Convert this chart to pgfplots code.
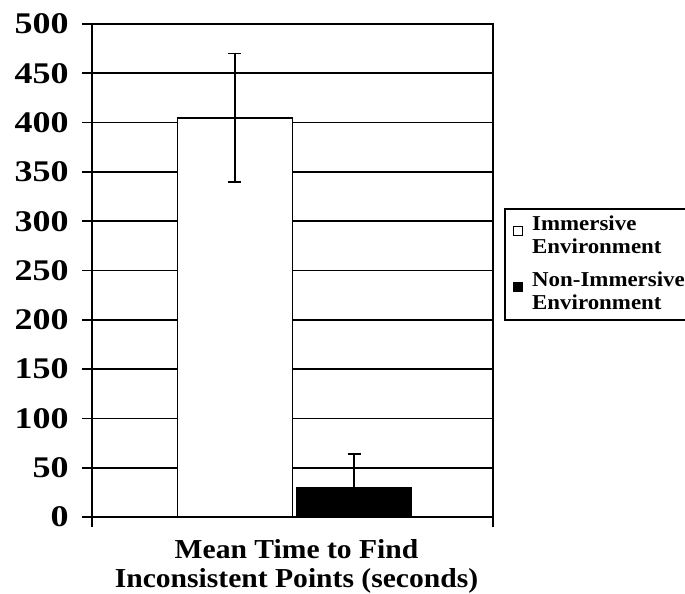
\documentclass[border=0pt]{standalone}
\usepackage{fontspec}
\setmainfont{Liberation Serif}[FakeStretch=1.08]
\newfontfamily\tickfont{Liberation Serif}[FakeStretch=1.2]
\usepackage{pgfplots}
\pgfplotsset{compat=1.18}
\begin{document}
\begin{tikzpicture}
\begin{axis}[
  scale only axis,
  width=200.5pt, height=246.5pt,
  xmin=-1, xmax=1,
  ymin=0, ymax=500,
  ytick={0,50,...,500},
  xtick={-1,1},
  xticklabels={},
  tick pos=left,
  tick align=outside,
  major tick length=5pt,
  tick style={black, line width=0.85pt},
  axis line style={black, line width=0.85pt},
  ymajorgrids,
  grid style={black, line width=0.85pt},
  /pgf/number format/assume math mode=true,
  yticklabel style={font=\tickfont\bfseries\fontsize{15}{15}\selectfont, anchor=east, inner sep=0pt, xshift=-6.5pt},
  xlabel={Mean Time to Find\\Inconsistent Points (seconds)},
  xlabel style={font=\bfseries\fontsize{13.7}{14.5}\selectfont, align=center, inner sep=0pt,
     at={(axis description cs:0.51,0)}, anchor=north, yshift=-11pt},
  ybar=0pt,
  bar width=57.5pt,
  legend style={at={(axis description cs:1.0274,0.6268)}, anchor=north west,
     draw=black, line width=0.8pt, inner xsep=4pt, inner ysep=3.6pt,
     font=\bfseries\fontsize{10.6}{11.5}\selectfont,
     cells={align=left, anchor=west},
     nodes={inner sep=0pt},
     row sep=7.6pt,
     /tikz/every odd column/.append style={column sep=4.5pt}},
  legend image code/.code={\draw[#1, line width=0.6pt] (0pt,0.4pt) rectangle (4.6pt,5pt);},
  error bars/y dir=both,
  error bars/y explicit,
  error bars/error bar style={black, line width=0.8pt},
  error bars/error mark options={rotate=90, mark size=3.25pt, line width=0.8pt, black},
]
\addplot[draw=black, fill=white, line width=0.9pt, bar shift=-28.75pt] coordinates {(0,405) +- (0,65)};
\addlegendentry{Immersive\\Environment}
\addplot[draw=black, fill=black, line width=0.9pt, bar shift=30.75pt] coordinates {(0,30) +- (0,34)};
\addlegendentry{Non-Immersive\\Environment}
\end{axis}
\pgfresetboundingbox
\path[use as bounding box] (-46pt,-38.5pt) rectangle (296.5pt,258.5pt);
\end{tikzpicture}
\end{document}
